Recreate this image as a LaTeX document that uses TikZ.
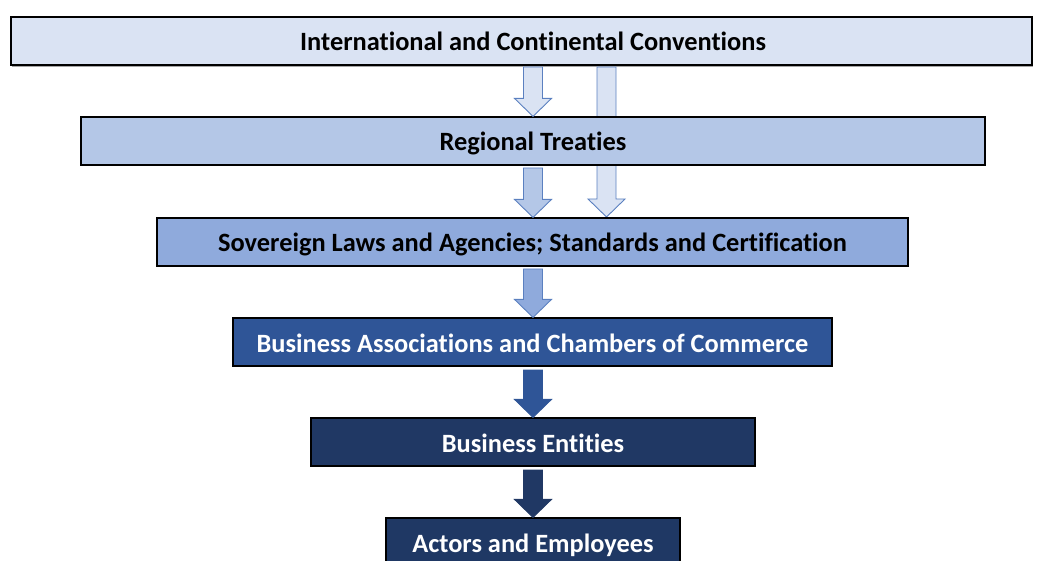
\documentclass[tikz,border=0pt]{standalone}
\usepackage{fontspec}
\setmainfont{Carlito}[Ligatures=NoCommon]
\usetikzlibrary{calc}
\definecolor{c1}{HTML}{DAE3F3}
\definecolor{c2}{HTML}{B4C7E7}
\definecolor{c3}{HTML}{8FAADC}
\definecolor{c4}{HTML}{2F5597}
\definecolor{c5}{HTML}{203864}
\definecolor{c6}{HTML}{1F3864}
\definecolor{arrline}{HTML}{5B80C0}
\newcommand\blockarrow[3]{%
  \path[#1] let \p1=(#2), \p2=(#3) in
    (\x1-9.5pt,\y1) -- (\x1+9.5pt,\y1) -- (\x1+9.5pt,\y2+18pt) -- (\x1+18.5pt,\y2+18pt)
    -- (\x1,\y2) -- (\x1-18.5pt,\y2+18pt) -- (\x1-9.5pt,\y2+18pt) -- cycle;}
\begin{document}
\begin{tikzpicture}[x=1pt,y=-1pt,
  box/.style={draw=black,line width=1.2pt,minimum height=48pt,inner sep=0pt,
    text height=22pt,text depth=2pt,
    font=\fontsize{26.4}{30}\selectfont\bfseries},
  arrlight/.style={draw=arrline,line width=0.9pt,line join=miter},
  arrdark/.style={line width=0.9pt,line join=miter}]
\useasboundingbox (0,0) rectangle (1041,561);
\clip (0,0) rectangle (1041,561);
% coordinates for arrow start points
\coordinate (a1s) at (533,67);
\coordinate (a2s) at (533,168);
\coordinate (ls) at (606.5,67);
\coordinate (a3s) at (533,269);
\coordinate (a4s) at (533,370);
\coordinate (a5s) at (533,470);
% soft shadow under the top box
\fill[black!35] (12,65) rectangle (1033,67);
\path (521.5,41) node[box,fill=c1,minimum width=1021pt] (b1) {\hspace*{23pt}International and Continental Conventions};
% long arrow behind box 2
\blockarrow{arrlight,fill=c1}{ls}{606.5,217}
\path (533,141) node[box,fill=c2,minimum width=904pt] (b2) {Regional Treaties};
\path (532.5,242) node[box,fill=c3,minimum width=751pt] (b3) {Sovereign Laws and Agencies; Standards and Certification};
\path (532.5,342) node[box,fill=c4,text=white,minimum width=599pt] (b4) {Business Associations and Chambers of Commerce};
\path (533,442) node[box,fill=c5,text=white,minimum width=444pt] (b5) {Business Entities};
\path (533,542) node[box,fill=c6,text=white,minimum width=294pt] (b6) {Actors and Employees};
% arrows
\blockarrow{arrlight,fill=c1}{a1s}{b2.north -| a1s}
\blockarrow{arrlight,fill=c2}{a2s}{b3.north -| a2s}
\blockarrow{arrlight,fill=c3}{a3s}{b4.north -| a3s}
\blockarrow{arrdark,draw=c4,fill=c4}{a4s}{b5.north -| a4s}
\blockarrow{arrdark,draw=c5,fill=c5}{a5s}{b6.north -| a5s}
\end{tikzpicture}
\end{document}
